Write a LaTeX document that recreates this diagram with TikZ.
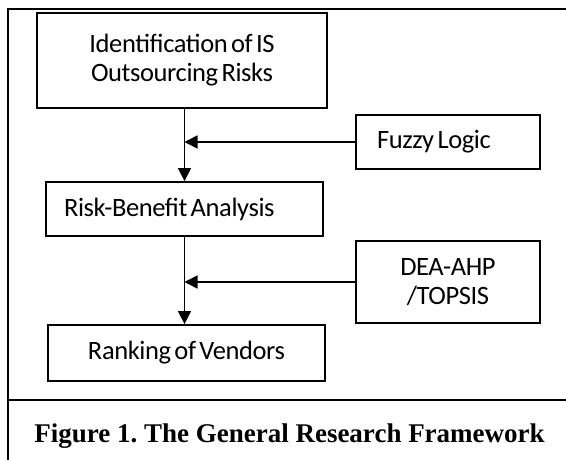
\documentclass[tikz,border=0pt]{standalone}
\usepackage{fontspec}
\setmainfont{Carlito}
\newfontfamily\boxfont[LetterSpace=-1.5,WordSpace=0.6]{Carlito}
\newfontfamily\capfont{Liberation Serif}
\newcommand\natspace{\spaceskip=0pt\xspaceskip=0pt\relax}
\frenchspacing
\usetikzlibrary{arrows.meta}
\begin{document}
\begin{tikzpicture}[x=1pt,y=-1pt,
  framel/.style={line width=2.2pt},
  box/.style={draw,line width=1.8pt,rectangle,font=\boxfont\fontsize{26.5}{29}\selectfont,align=center,inner sep=0pt},
  lbox/.style={box,align=left},
  arr/.style={line width=1.5pt,-{Triangle[length=13pt,width=13pt]}}]
\useasboundingbox (0,0) rectangle (566,460);
\draw[framel] (566,9) -- (8,9) -- (8,460);
\draw[framel] (8,400) -- (566,400);
\node[box,minimum width=290,minimum height=95] (ident) at (182,60.5) {Identification of IS\\Outsourcing Risks};
\node[lbox,minimum height=54,text width=142,inner xsep=21] (fuzzy) at (448,142) {\natspace Fuzzy Logic};
\node[lbox,minimum height=54,text width=241,inner xsep=18] (risk) at (184.5,209) {\natspace Risk-Benefit Analysis};
\node[box,minimum width=184,minimum height=82] (dea) at (448,282) {DEA-AHP\\/TOPSIS};
\node[box,minimum width=277,minimum height=56] (rank) at (186.5,353) {Ranking of Vendors};
\node[anchor=base,inner sep=0pt,font=\capfont\bfseries\fontsize{27}{32}\selectfont] (cap) at (289.5,442) {\frenchspacing Figure 1. The General Research Framework};
\draw[arr] (ident.south -| risk.north) -- (risk.north);
\draw[arr] (fuzzy.west) -- (fuzzy.west -| risk.north);
\draw[arr] (risk.south) -- (risk.south |- rank.north);
\draw[arr] (dea.west) -- (dea.west -| risk.south);
\end{tikzpicture}
\end{document}
